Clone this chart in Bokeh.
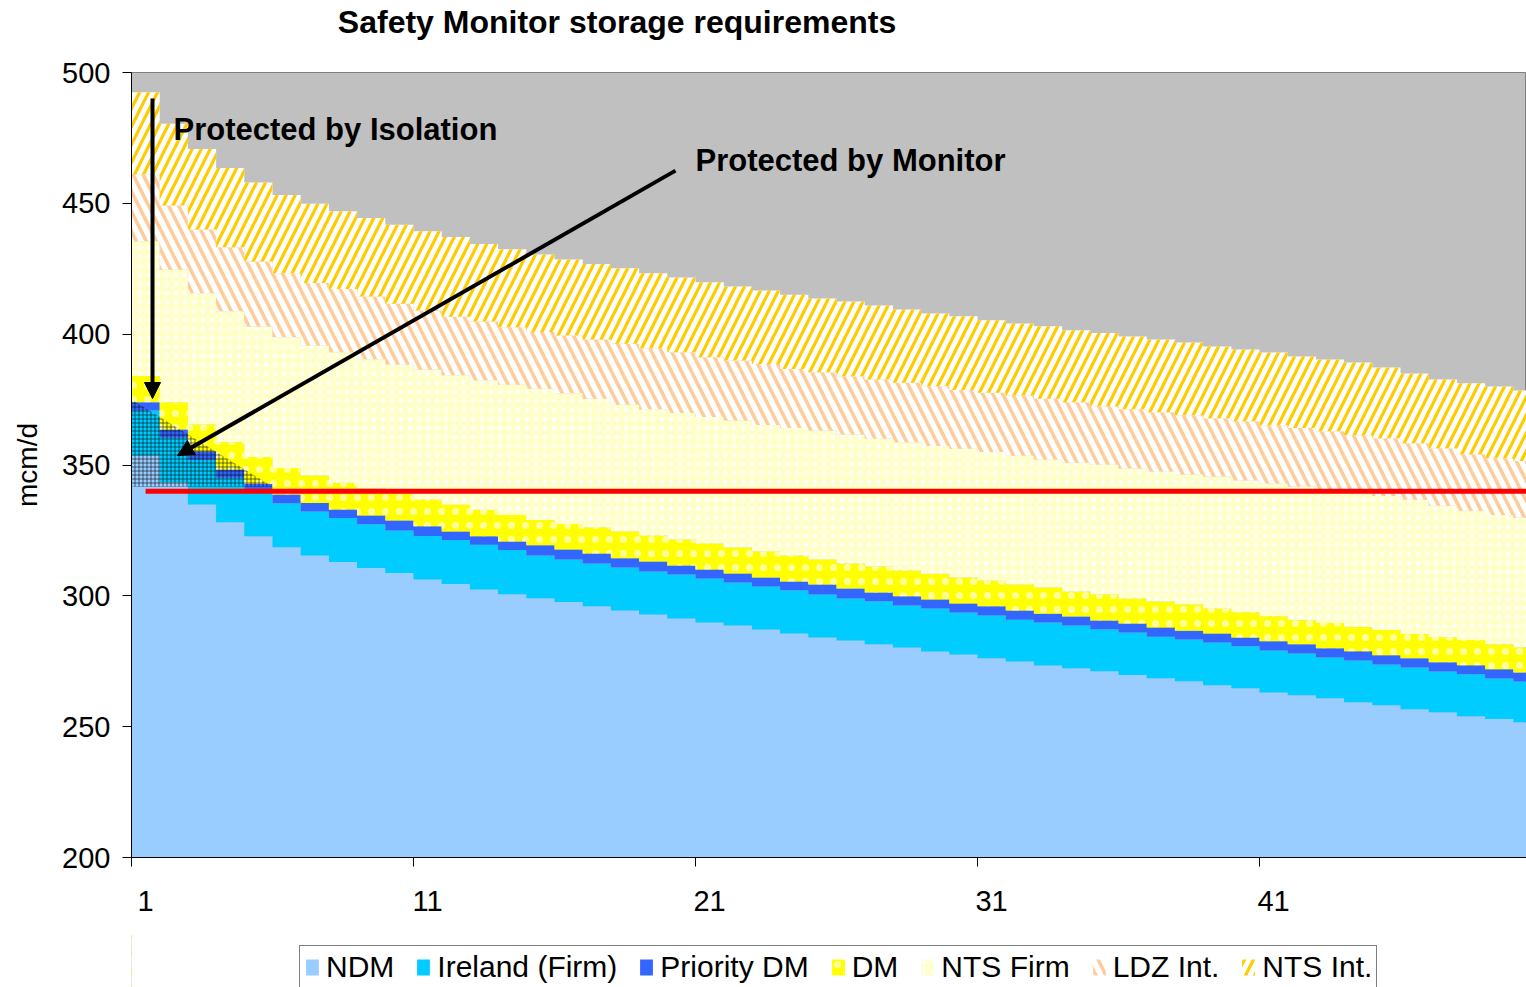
import numpy as np
from bokeh.plotting import figure
from bokeh.layouts import column
from bokeh.models import (Legend, LegendItem, Label, Arrow, NormalHead,
                          FixedTicker, LinearAxis, ColumnDataSource)
from bokeh.embed import file_html
from bokeh.resources import INLINE

# ---------------- data ----------------
days = list(range(1, 51))

ndm = [353.6, 343.4, 334.9, 328.1, 322.8, 318.6, 315.4, 312.9, 310.6, 308.7,
       306.2, 304.5, 302.4, 300.6, 299.1, 297.6, 296.0, 294.4, 292.9, 291.3,
       289.8, 288.7, 287.1, 285.6, 284.1, 282.9, 281.5, 280.3, 278.7, 277.6,
       276.1, 274.9, 273.4, 272.3, 271.2, 269.7, 268.5, 267.4, 265.8, 264.7,
       263.1, 262.0, 260.9, 259.3, 258.2, 256.7, 255.5, 254.0, 252.9, 251.7]

ireland_firm = [17.2, 17.0, 17.1, 17.0, 16.7, 16.8, 16.8, 16.8, 16.8, 16.3,
                16.7, 16.8, 17.1, 16.9, 16.3, 16.3, 16.4, 16.4, 16.4, 16.9,
                16.8, 16.4, 16.5, 16.5, 16.4, 16.1, 16.4, 16.0, 16.5, 16.0,
                16.4, 16.0, 16.4, 16.4, 16.0, 16.3, 15.9, 15.9, 16.4, 16.0,
                16.0, 16.0, 15.5, 16.0, 15.6, 15.9, 15.6, 16.0, 15.5, 15.6]

priority_dm = [3.2, 3.2, 3.3, 3.2, 3.3, 3.3, 3.3, 3.3, 3.3, 3.8,
               3.7, 3.3, 3.3, 3.3, 3.9, 3.8, 3.8, 3.6, 3.8, 3.4,
               3.5, 3.4, 3.4, 3.4, 3.8, 3.8, 3.4, 3.5, 3.4, 3.5,
               3.5, 3.5, 3.4, 3.4, 3.4, 3.4, 3.5, 3.4, 3.4, 3.4,
               3.5, 3.5, 3.6, 3.5, 3.5, 3.5, 3.5, 3.5, 3.5, 3.4]

dm = [10.0, 10.4, 10.2, 10.4, 10.3, 10.2, 10.5, 10.2, 10.3, 10.2,
      10.2, 10.2, 10.1, 10.1, 9.7, 9.8, 10.0, 10.2, 10.0, 9.9,
      9.9, 10.0, 9.9, 9.9, 9.6, 9.6, 9.9, 9.9, 9.8, 9.9,
      9.9, 9.9, 10.0, 9.6, 9.9, 9.6, 9.9, 10.0, 9.6, 9.6,
      9.6, 9.2, 9.6, 9.3, 9.6, 9.3, 9.6, 9.6, 9.6, 9.6]

nts_firm = [51.5, 50.6, 50.1, 50.1, 49.8, 49.9, 49.7, 49.9, 49.4, 49.4,
            49.6, 49.5, 49.5, 49.8, 50.1, 49.9, 49.1, 48.4, 48.2, 48.4,
            48.3, 48.5, 48.4, 48.7, 49.3, 49.3, 48.9, 49.0, 48.9, 49.2,
            49.1, 49.2, 48.8, 49.2, 49.7, 49.7, 49.7, 49.7, 50.4, 50.4,
            50.7, 51.1, 50.9, 51.2, 51.3, 51.3, 50.2, 49.4, 49.4, 49.5]

ldz_int = [25.5, 24.6, 24.4, 24.4, 24.9, 24.5, 23.9, 24.2, 24.0, 23.2,
           22.6, 22.4, 22.4, 21.9, 21.7, 22.1, 22.7, 23.3, 23.3, 23.2,
           22.9, 22.9, 23.3, 22.6, 22.2, 22.2, 22.6, 22.7, 22.8, 22.5,
           22.6, 23.1, 23.3, 23.1, 22.3, 22.6, 22.7, 22.6, 22.3, 22.6,
           22.3, 22.3, 22.4, 22.1, 22.0, 21.6, 22.0, 21.6, 21.7, 21.7]

nts_int = [31.5, 31.2, 30.8, 30.3, 30.2, 29.9, 30.2, 29.7, 30.0, 30.2,
           30.3, 30.4, 29.7, 29.9, 29.6, 29.0, 28.8, 28.9, 28.7, 28.6,
           28.6, 28.3, 28.1, 28.4, 28.2, 28.6, 28.3, 28.0, 27.8, 28.1,
           27.7, 27.5, 27.7, 27.5, 27.9, 27.8, 27.8, 27.8, 27.4, 27.4,
           27.8, 27.4, 27.4, 27.8, 27.1, 26.7, 26.3, 27.1, 27.4, 27.0]

series_names = ["NDM", "Ireland (Firm)", "Priority DM", "DM", "NTS Firm",
                "LDZ Int.", "NTS Int."]

safety_level = [340.0] * len(days)          # red line (mcm/d)

# "Protected by Monitor" zone (triangle)
monitor_zone_x = [0.5, 5.5, 0.5]
monitor_zone_y = [375.0, 341.7, 341.7]

y_ticks = [200, 250, 300, 350, 400, 450, 500]
x_label_days = [1, 11, 21, 31, 41]

TITLE = "Safety Monitor storage requirements"

# ---------------- styles ----------------
FONT = "Liberation Sans"
styles = [
    dict(fill_color="#99CCFF"),
    dict(fill_color="#00CCFF"),
    dict(fill_color="#3366FF"),
    dict(fill_color="#FFFF00", hatch_pattern="dot", hatch_color="white",
         hatch_scale=14, hatch_weight=0.3, hatch_alpha=0.6),
    dict(fill_color="#FFFFCC", hatch_pattern="dot", hatch_color="white",
         hatch_scale=9, hatch_weight=0.2, hatch_alpha=0.8),
    dict(fill_color="white", hatch_pattern="left_diagonal_line",
         hatch_color="#FFCC99", hatch_scale=20, hatch_weight=3.5),
    dict(fill_color="white", hatch_pattern="right_diagonal_line",
         hatch_color="#FFCC00", hatch_scale=18, hatch_weight=3.2),
]

# ---------------- main figure ----------------
px_per_day = 28.2
frame_w, frame_h = 1395, 785
x_end = 0.5 + frame_w / px_per_day
p = figure(frame_width=frame_w, frame_height=frame_h,
           x_range=(0.5, x_end), y_range=(200, 500),
           output_backend="svg", toolbar_location=None,
           min_border_left=131, min_border_right=0,
           min_border_top=72, min_border_bottom=78)
p.background_fill_color = "#C0C0C0"
p.border_fill_color = "white"
p.outline_line_color = "#808080"
p.xgrid.visible = False
p.ygrid.visible = False
p.title.text = ""

xax = p.below[0]
yax = p.left[0]

# stacked step areas
vals = np.vstack([ndm, ireland_firm, priority_dm, dm, nts_firm, ldz_int, nts_int])
tops = np.cumsum(vals, axis=0)
bottoms = np.vstack([np.zeros(len(days)), tops[:-1]])
d = np.asarray(days, dtype=float)
edges = np.append(d - 0.5, d[-1] + 0.5)

def ext(a):
    return np.append(a, a[-1])

for i, name in enumerate(series_names):
    src = ColumnDataSource(dict(x=edges, y1=ext(bottoms[i]), y2=ext(tops[i])))
    p.varea_step(x="x", y1="y1", y2="y2", step_mode="after", source=src,
                 **styles[i])

# "protected by monitor" cross-hatched zone
p.patch(monitor_zone_x, monitor_zone_y, fill_alpha=0, line_color=None,
        hatch_pattern="cross", hatch_color="black", hatch_scale=4,
        hatch_weight=0.8, hatch_alpha=0.7)

# red safety level line
p.line(days, safety_level, line_color="#FF0000", line_width=5)

# arrows
p.add_layout(Arrow(end=NormalHead(size=16, fill_color="black", line_color="black"),
                   x_start=1.245, y_start=490.1, x_end=1.245, y_end=375.4,
                   line_width=4, line_color="black"))
p.add_layout(Arrow(end=NormalHead(size=16, fill_color="black", line_color="black"),
                   x_start=19.79, y_start=462.5, x_end=2.13, y_end=353.6,
                   line_width=4, line_color="black"))

p.add_layout(Label(x=1.99, y=478.2, text="Protected by Isolation",
                   text_font=FONT, text_font_size="31px", text_font_style="bold",
                   text_baseline="middle", text_color="black"))
p.add_layout(Label(x=20.5, y=466.4, text="Protected by Monitor",
                   text_font=FONT, text_font_size="31px", text_font_style="bold",
                   text_baseline="middle", text_color="black"))

# chart title, drawn as the single label of an (otherwise invisible) top axis
title_x = 0.5 + (616.5 - 131) / px_per_day
title_axis = LinearAxis(ticker=FixedTicker(ticks=[title_x]),
                        major_label_overrides={title_x: TITLE},
                        major_tick_out=0, major_tick_in=0,
                        major_tick_line_color=None, minor_tick_line_color=None,
                        axis_line_color=None, major_label_standoff=33,
                        major_label_text_font=FONT,
                        major_label_text_font_size="32px",
                        major_label_text_font_style="bold",
                        major_label_text_color="black")
p.add_layout(title_axis, "above")

# y axis
yax.ticker = FixedTicker(ticks=y_ticks)
yax.major_tick_out = 9
yax.major_tick_in = 0
yax.minor_tick_line_color = None
yax.major_label_standoff = 12
yax.major_label_text_font = FONT
yax.major_label_text_font_size = "29px"
yax.major_label_text_color = "black"
yax.axis_label = "mcm/d"
yax.axis_label_text_font = FONT
yax.axis_label_text_font_size = "28px"
yax.axis_label_text_font_style = "normal"
yax.axis_label_text_color = "black"
yax.axis_label_standoff = 16
yax.axis_line_color = "black"
yax.major_tick_line_color = "black"

# x axis: labels at category centres, tick marks on category boundaries
xax.ticker = FixedTicker(ticks=x_label_days,
                         minor_ticks=[v - 0.5 for v in x_label_days])
xax.major_tick_line_color = None
xax.major_tick_out = 0
xax.major_tick_in = 0
xax.minor_tick_line_color = "black"
xax.minor_tick_out = 9
xax.minor_tick_in = 0
xax.major_label_standoff = 24
xax.major_label_text_font = FONT
xax.major_label_text_font_size = "29px"
xax.major_label_text_color = "black"
xax.axis_line_color = "black"

# ---------------- legend strip (separate figure under the chart) ----------------
leg_h = 52
q = figure(frame_width=frame_w, frame_height=leg_h, x_range=(0, 1), y_range=(0, 1),
           output_backend="svg", toolbar_location=None,
           x_axis_type=None, y_axis_type=None,
           min_border_left=131, min_border_right=0,
           min_border_top=0, min_border_bottom=0)
q.outline_line_color = None
q.outline_line_alpha = 0
q.background_fill_color = None
q.border_fill_color = None
q.xgrid.visible = False
q.ygrid.visible = False

# one off-screen bar per series, only to give the legend its swatches
swatches = [q.vbar(x=[-5.0], top=[1.0], width=1, line_color=None, **styles[i])
            for i in range(len(series_names))]
items = [LegendItem(label=n, renderers=[r]) for n, r in zip(series_names, swatches)]
legend = Legend(items=items, orientation="horizontal", location=(168, -2),
                label_text_font=FONT, label_text_font_size="30px",
                label_text_color="black",
                glyph_width=16, glyph_height=20, label_standoff=6, spacing=21,
                padding=4, margin=0, border_line_color="black",
                border_line_width=1, background_fill_color="white",
                background_fill_alpha=1)
q.add_layout(legend, "center")

layout = column(p, q, spacing=0)
open("out.html", "w").write(file_html(layout, INLINE))
